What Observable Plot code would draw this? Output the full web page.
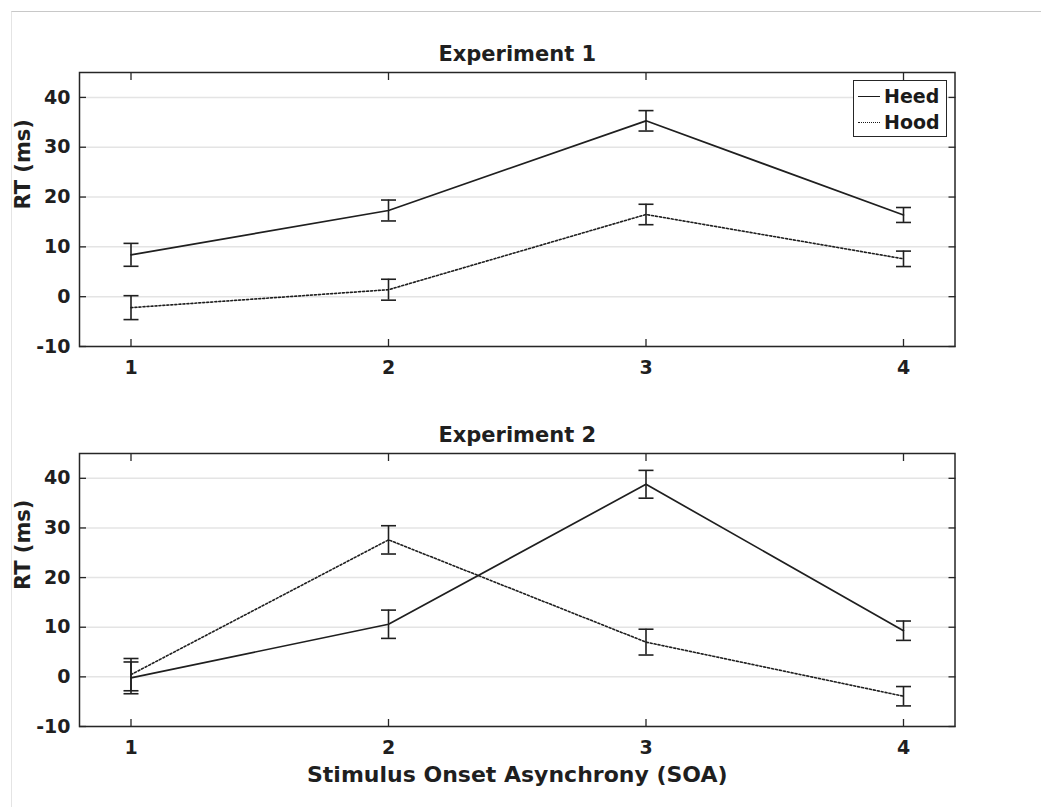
<!DOCTYPE html>
<html>
<head>
<meta charset="utf-8">
<script src="https://cdn.jsdelivr.net/npm/d3@7"></script>
<script src="https://cdn.jsdelivr.net/npm/@observablehq/plot@0.6"></script>
<style>
  body { margin: 0; background: #fff; }
  #wrap { position: relative; width: 1041px; height: 807px; overflow: hidden; font-family: "DejaVu Sans", sans-serif; }
  #border { position: absolute; left: 11px; top: 11px; right: 0; bottom: 0; border-top: 1.5px solid #c8c8c8; border-left: 1px solid #e4e4e4; pointer-events: none; }
  .plot { position: absolute; left: 0; }
  #legend { position: absolute; left: 853px; top: 80px; width: 92px; height: 55px; border: 1.5px solid #262626; background: #fff; }
  .lg-row { position: absolute; left: 4px; height: 24px; display: flex; align-items: center; font-weight: bold; font-size: 19px; color: #1a1a1a; }
  .lg-line { width: 22px; height: 0; margin-right: 4px; }
</style>
</head>
<body>
<div id="wrap">
  <div id="p1" class="plot" style="top:0px"></div>
  <div id="p2" class="plot" style="top:386px"></div>
  <div id="border"></div>
  <div id="legend">
    <div class="lg-row" style="top:3px"><span class="lg-line" style="border-top:1.5px solid #1a1a1a"></span><span id="lgHeed"></span></div>
    <div class="lg-row" style="top:29px"><span class="lg-line" style="border-top:1.5px dotted #1a1a1a"></span><span id="lgHood"></span></div>
  </div>
</div>
<script>
// ---- data ----
const soa = [1, 2, 3, 4];
const conditions = ["Heed", "Hood"];
const titles = ["Experiment 1", "Experiment 2"];
const xTitle = "Stimulus Onset Asynchrony (SOA)";
const yTitle = "RT (ms)";
const yTicks = [-10, 0, 10, 20, 30, 40];
const xTicks = [1, 2, 3, 4];

const exp1Heed = [8.4, 17.3, 35.3, 16.4];
const exp1HeedErr = [2.3, 2.1, 2.05, 1.5];
const exp1Hood = [-2.2, 1.4, 16.5, 7.6];
const exp1HoodErr = [2.4, 2.1, 2.05, 1.55];

const exp2Heed = [-0.2, 10.6, 38.8, 9.3];
const exp2HeedErr = [3.2, 2.85, 2.8, 1.95];
const exp2Hood = [0.45, 27.6, 7.0, -3.9];
const exp2HoodErr = [3.25, 2.85, 2.6, 1.95];

document.getElementById("lgHeed").textContent = conditions[0];
document.getElementById("lgHood").textContent = conditions[1];

function rowsFor(values, errs, cond) {
  return soa.map((s, i) => ({soa: s, rt: values[i], lo: values[i] - errs[i], hi: values[i] + errs[i], cond}));
}

const capSymbol = {
  draw(context, size) {
    const w = Math.sqrt(size / Math.PI);
    context.moveTo(-w, 0);
    context.lineTo(w, 0);
  }
};

const ink = "#1f1f1f";

function panel({heed, hood, title, height, marginTop, marginBottom, xLabel}) {
  const rows = [...heed, ...hood];
  const marks = [
    Plot.gridY(yTicks, {stroke: "#e4e4e4", strokeOpacity: 1, strokeWidth: 1.5}),
    Plot.axisY(yTicks, {anchor: "left", tickSize: 0, tickPadding: 9, fontSize: 19, fontWeight: "bold", tickFormat: d => String(d), label: null, fill: ink}),
    Plot.axisY(yTicks, {anchor: "left", tickSize: -7, tickFormat: () => "", label: null, stroke: "#262626", strokeWidth: 1.3}),
    Plot.axisY(yTicks, {anchor: "right", tickSize: -7, tickFormat: () => "", label: null, stroke: "#262626", strokeWidth: 1.3}),
    Plot.axisX(xTicks, {anchor: "top", tickSize: -7, tickFormat: () => "", label: null, stroke: "#262626", strokeWidth: 1.3}),
    Plot.axisX(xTicks, {anchor: "bottom", tickSize: -7, tickFormat: () => "", label: null, stroke: "#262626", strokeWidth: 1.3}),
    Plot.axisX(xTicks, {anchor: "bottom", tickSize: 0, tickPadding: 14, fontSize: 19, fontWeight: "bold", tickFormat: d => String(d), label: null, fill: ink}),
    Plot.line(heed, {x: "soa", y: "rt", stroke: ink, strokeWidth: 1.7}),
    Plot.line(hood, {x: "soa", y: "rt", stroke: ink, strokeWidth: 1.6, strokeDasharray: "2,2"}),
    Plot.ruleX(rows, {x: "soa", y1: "lo", y2: "hi", stroke: ink, strokeWidth: 1.6}),
    Plot.dot(rows, {x: "soa", y: "lo", symbol: capSymbol, r: 7.5, stroke: ink, strokeWidth: 1.6, fill: "none"}),
    Plot.dot(rows, {x: "soa", y: "hi", symbol: capSymbol, r: 7.5, stroke: ink, strokeWidth: 1.6, fill: "none"}),
    Plot.frame({stroke: "#262626", strokeWidth: 1.5}),
    Plot.text([title], {text: d => d, frameAnchor: "top", lineAnchor: "bottom", dy: -12, fontSize: 21, fontWeight: "bold", fill: ink}),
    Plot.text([yTitle], {text: d => d, frameAnchor: "left", rotate: -90, dx: -56, fontSize: 21, fontWeight: "bold", fill: ink})
  ];
  if (xLabel) {
    marks.push(Plot.text([xLabel], {text: d => d, frameAnchor: "bottom", lineAnchor: "bottom", dy: 55, fontSize: 22, fontWeight: "bold", fill: ink}));
  }
  return Plot.plot({
    width: 1041,
    height,
    marginLeft: 79,
    marginRight: 86.5,
    marginTop,
    marginBottom,
    style: {fontFamily: "DejaVu Sans, sans-serif", background: "transparent", color: "#262626", overflow: "visible"},
    x: {domain: [0.8, 4.2]},
    y: {domain: [-10, 45]},
    marks
  });
}

document.getElementById("p1").append(panel({
  heed: rowsFor(exp1Heed, exp1HeedErr, conditions[0]),
  hood: rowsFor(exp1Hood, exp1HoodErr, conditions[1]),
  title: titles[0], height: 386, marginTop: 72, marginBottom: 40
}));
document.getElementById("p2").append(panel({
  heed: rowsFor(exp2Heed, exp2HeedErr, conditions[0]),
  hood: rowsFor(exp2Hood, exp2HoodErr, conditions[1]),
  title: titles[1], height: 421, marginTop: 67, marginBottom: 81, xLabel: xTitle
}));
</script>
</body>
</html>
